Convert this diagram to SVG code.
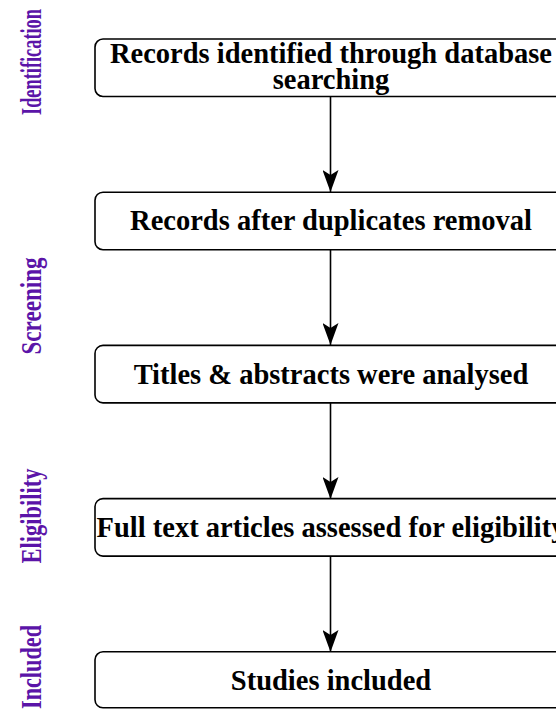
<svg xmlns="http://www.w3.org/2000/svg" width="556" height="709" viewBox="0 0 556 709">
<defs>
<style>
.box{fill:#ffffff;stroke:#000000;stroke-width:1.6}
.t{font-family:"Liberation Serif","Times New Roman",serif;font-weight:bold;font-size:28.5px;fill:#000000;text-anchor:middle}
.lab{font-family:"Liberation Serif","Times New Roman",serif;font-weight:bold;font-size:29px;fill:#5B14A8;text-anchor:middle}
.c{stroke:#000000;stroke-width:1.6;fill:none}
</style>
<marker id="ah" viewBox="0 0 22 16" refX="22" refY="8" markerWidth="22" markerHeight="16" markerUnits="userSpaceOnUse" orient="auto">
<path d="M0,0 L22,8 L0,16 L5,8 Z" fill="#000000"/>
</marker>
</defs>
<rect width="556" height="709" fill="#ffffff"/>
<g id="labels">
<text class="lab" transform="translate(41,62) rotate(-90)" textLength="106" lengthAdjust="spacingAndGlyphs">Identification</text>
<text class="lab" transform="translate(41,306) rotate(-90)" textLength="97" lengthAdjust="spacingAndGlyphs">Screening</text>
<text class="lab" transform="translate(41,516) rotate(-90)" textLength="95" lengthAdjust="spacingAndGlyphs">Eligibility</text>
<text class="lab" transform="translate(41,667) rotate(-90)" textLength="84" lengthAdjust="spacingAndGlyphs">Included</text>
</g>
<g id="connectors">
<line class="c" x1="330.5" y1="97" x2="330.5" y2="192" marker-end="url(#ah)"/>
<line class="c" x1="330.5" y1="250" x2="330.5" y2="345" marker-end="url(#ah)"/>
<line class="c" x1="330.5" y1="403" x2="330.5" y2="499" marker-end="url(#ah)"/>
<line class="c" x1="330.5" y1="557" x2="330.5" y2="652" marker-end="url(#ah)"/>
</g>
<g id="n1">
<rect class="box" x="95" y="39" width="472" height="57.5" rx="8"/>
<text class="t" x="331" y="63">Records identified through database</text>
<text class="t" x="331" y="89">searching</text>
</g>
<g id="n2">
<rect class="box" x="95" y="192.2" width="472" height="57.5" rx="8"/>
<text class="t" x="331" y="230">Records after duplicates removal</text>
</g>
<g id="n3">
<rect class="box" x="95" y="345.4" width="472" height="57.5" rx="8"/>
<text class="t" x="331" y="383.5">Titles &amp; abstracts were analysed</text>
</g>
<g id="n4">
<rect class="box" x="95" y="498.6" width="472" height="57.5" rx="8"/>
<text class="t" x="331" y="537">Full text articles assessed for eligibility</text>
</g>
<g id="n5">
<rect class="box" x="95" y="651.8" width="472" height="56" rx="8"/>
<text class="t" x="331" y="690">Studies included</text>
</g>
</svg>
